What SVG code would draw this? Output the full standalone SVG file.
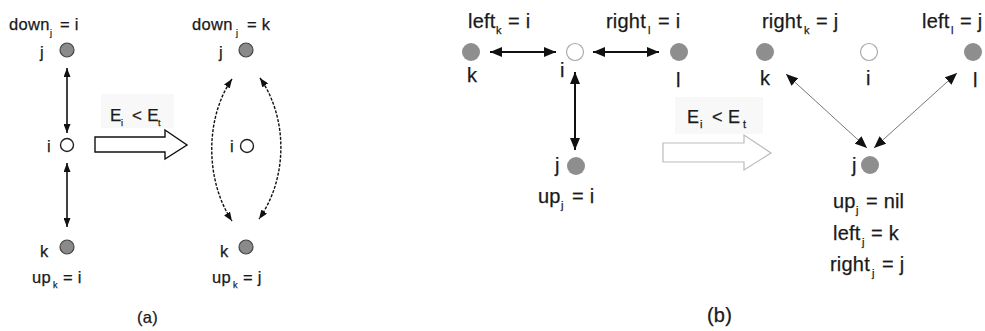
<svg xmlns="http://www.w3.org/2000/svg" width="985" height="331" viewBox="0 0 985 331">
  <style>
    text { font-family: "Liberation Sans", Arial, sans-serif; fill: #1a1a1a; stroke: #1a1a1a; stroke-width: 0.25; }
    .ta { font-size: 16.5px; letter-spacing: 0.3px; }
    .tb { font-size: 20px; letter-spacing: 0.2px; }
    .sa { font-size: 9px; letter-spacing: 0; }
    .sb { font-size: 11px; letter-spacing: 0; }
    .gA { fill: #8a8a8a; stroke: #444; stroke-width: 1.2; }
    .oA { fill: #fff; stroke: #222; stroke-width: 1.4; }
    .gB { fill: #8e8e8e; }
    .oB { fill: #fff; stroke: #aaa; stroke-width: 1.2; }
    .lnA { stroke: #111; stroke-width: 1.6; fill: none; }
    .dsA { stroke: #111; stroke-width: 1.4; fill: none; stroke-dasharray: 3 1.5; }
    .lnB { stroke: #111; stroke-width: 2; fill: none; }
    .thB { stroke: #777; stroke-width: 1; fill: none; }
  </style>
  <defs>
    <marker id="hA" markerUnits="userSpaceOnUse" markerWidth="9" markerHeight="7" refX="9" refY="3.5" orient="auto-start-reverse">
      <path d="M0,0 L9,3.5 L0,7 z" fill="#111"/>
    </marker>
    <marker id="hB" markerUnits="userSpaceOnUse" markerWidth="12" markerHeight="10" refX="12" refY="5" orient="auto-start-reverse">
      <path d="M0,0 L12,5 L0,10 z" fill="#111"/>
    </marker>
  </defs>
  <rect width="985" height="331" fill="#fff"/>

  <!-- transition condition labels and hollow arrows -->
  <g id="step-a">
    <rect x="101" y="94" width="73" height="34" fill="#f8f8f8"/>
    <text class="ta" style="font-size:17px" x="110" y="121">E<tspan class="sa" x="121" y="126">i</tspan><tspan x="132" y="121">&lt; E</tspan><tspan class="sa" x="158" y="126">t</tspan></text>
    <polygon points="95,137 165,137 165,130 187,145 165,159 165,152 95,152" fill="#fff" stroke="#111" stroke-width="1.4"/>
  </g>
  <g id="step-b">
    <rect x="675" y="97" width="88" height="37" fill="#f8f8f8"/>
    <text class="tb" style="font-size:18px" x="687" y="123">E<tspan class="sb" x="700" y="128">i</tspan><tspan x="712" y="123">&lt; E</tspan><tspan class="sb" x="743" y="128">t</tspan></text>
    <polygon points="663,143 744,143 744,135 771,153 744,170 744,162 663,162" fill="#fff" stroke="#bbb" stroke-width="1.2"/>
  </g>

  <!-- panel (a), before -->
  <g id="a1-j">
    <text class="ta" x="9" y="30">down<tspan class="sa" x="50" y="36">j</tspan><tspan x="60" y="30">= i</tspan></text>
    <circle class="gA" cx="67" cy="50" r="7"/>
    <text class="ta" x="40" y="58">j</text>
  </g>
  <g id="a1-i">
    <circle class="oA" cx="67" cy="145" r="6.5"/>
    <text class="ta" x="47" y="152">i</text>
  </g>
  <g id="a1-k">
    <circle class="gA" cx="67" cy="247" r="7"/>
    <text class="ta" x="40" y="257">k</text>
    <text class="ta" x="32" y="283">up<tspan class="sa" x="53" y="288">k</tspan><tspan x="63" y="283">= i</tspan></text>
  </g>

  <!-- panel (a), after -->
  <g id="a2-j">
    <text class="ta" x="192" y="30">down<tspan class="sa" x="236" y="36">j</tspan><tspan x="247" y="30">= k</tspan></text>
    <circle class="gA" cx="246" cy="50" r="7"/>
    <text class="ta" x="219" y="58">j</text>
  </g>
  <g id="a2-i">
    <circle class="oA" cx="247" cy="146" r="6.5"/>
    <text class="ta" x="230" y="152">i</text>
  </g>
  <g id="a2-k">
    <circle class="gA" cx="246" cy="247" r="7"/>
    <text class="ta" x="220" y="257">k</text>
    <text class="ta" x="212" y="283">up<tspan class="sa" x="233" y="288">k</tspan><tspan x="243" y="283">= j</tspan></text>
  </g>
  <text class="ta" x="137" y="323">(a)</text>

  <!-- panel (b), before -->
  <g id="b1-k">
    <text class="tb" x="468" y="28">left<tspan class="sb" x="496" y="34">k</tspan><tspan x="508" y="28">= i</tspan></text>
    <circle class="gB" cx="471" cy="52" r="9"/>
    <text class="tb" x="467" y="82">k</text>
  </g>
  <g id="b1-i">
    <circle class="oB" cx="575" cy="52" r="8.5"/>
    <text class="tb" x="560" y="77">i</text>
  </g>
  <g id="b1-l">
    <text class="tb" x="606" y="28">right<tspan class="sb" x="648" y="34">l</tspan><tspan x="658" y="28">= i</tspan></text>
    <circle class="gB" cx="679" cy="52" r="9"/>
    <text class="tb" x="676" y="87">l</text>
  </g>
  <g id="b1-j">
    <circle class="gB" cx="576" cy="166" r="9"/>
    <text class="tb" x="555" y="172">j</text>
    <text class="tb" x="538" y="203">up<tspan class="sb" x="561" y="209">j</tspan><tspan x="572" y="203">= i</tspan></text>
  </g>

  <!-- panel (b), after -->
  <g id="b2-k">
    <text class="tb" x="762" y="28">right<tspan class="sb" x="804" y="34">k</tspan><tspan x="816" y="28">= j</tspan></text>
    <circle class="gB" cx="765" cy="52" r="9"/>
    <text class="tb" x="760" y="85">k</text>
  </g>
  <g id="b2-i">
    <circle class="oB" cx="869" cy="52" r="8.5"/>
    <text class="tb" x="866" y="85">i</text>
  </g>
  <g id="b2-l">
    <text class="tb" x="922" y="28">left<tspan class="sb" x="951" y="34">l</tspan><tspan x="960" y="28">= j</tspan></text>
    <circle class="gB" cx="973" cy="52" r="9"/>
    <text class="tb" x="973" y="87">l</text>
  </g>
  <g id="b2-j">
    <circle class="gB" cx="870" cy="165" r="9"/>
    <text class="tb" x="852" y="172">j</text>
    <text class="tb" x="833" y="208">up<tspan class="sb" x="856" y="214">j</tspan><tspan x="866" y="208">= nil</tspan></text>
    <text class="tb" x="833" y="240">left<tspan class="sb" x="862" y="246">j</tspan><tspan x="871" y="240">= k</tspan></text>
    <text class="tb" x="830" y="271">right<tspan class="sb" x="872" y="277">j</tspan><tspan x="882" y="271">= j</tspan></text>
  </g>
  <text class="tb" x="707" y="322">(b)</text>

  <!-- connectors -->
  <g id="connectors">
    <line class="lnA" x1="67" y1="68" x2="67" y2="133" marker-start="url(#hA)" marker-end="url(#hA)"/>
    <line class="lnA" x1="67" y1="163" x2="67" y2="227" marker-start="url(#hA)" marker-end="url(#hA)"/>
    <path class="dsA" d="M232,79 C205,118 205,180 232,221" marker-start="url(#hA)" marker-end="url(#hA)"/>
    <path class="dsA" d="M260,78 C288,118 288,178 259,219" marker-start="url(#hA)" marker-end="url(#hA)"/>
    <line class="lnB" x1="490" y1="52" x2="556" y2="52" marker-start="url(#hB)" marker-end="url(#hB)"/>
    <line class="lnB" x1="593" y1="52" x2="659" y2="52" marker-start="url(#hB)" marker-end="url(#hB)"/>
    <line class="lnB" x1="575" y1="72" x2="575" y2="150" marker-start="url(#hB)" marker-end="url(#hB)"/>
    <line class="thB" x1="786" y1="74" x2="867" y2="148" marker-start="url(#hB)" marker-end="url(#hB)"/>
    <line class="thB" x1="957" y1="73" x2="874" y2="148" marker-start="url(#hB)" marker-end="url(#hB)"/>
  </g>
</svg>
